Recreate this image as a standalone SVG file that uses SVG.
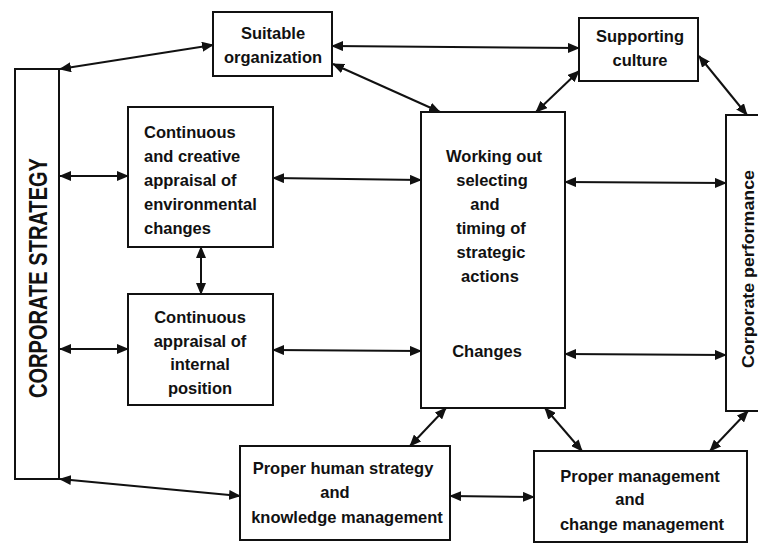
<svg xmlns="http://www.w3.org/2000/svg" width="758" height="545" viewBox="0 0 758 545">
<style>
.box{fill:#fff;stroke:#111;stroke-width:2}
.t{font-family:"Liberation Sans",Arial,sans-serif;font-size:16.5px;font-weight:bold;fill:#111}
.c{text-anchor:middle}
.con line{stroke:#111;stroke-width:2;marker-start:url(#ah);marker-end:url(#ah)}
</style>
<defs>
<marker id="ah" viewBox="0 0 12 10" refX="11" refY="5" markerWidth="12" markerHeight="10" markerUnits="userSpaceOnUse" orient="auto-start-reverse">
<path d="M0,0 L12,5 L0,10 Z" fill="#111"/>
</marker>
</defs>
<rect width="758" height="545" fill="#fff"/>
<g id="corporate-strategy">
<rect class="box" x="15" y="69" width="44" height="410"/>
<text class="t c" style="font-size:26px" textLength="240" lengthAdjust="spacingAndGlyphs" transform="translate(47,278) rotate(-90)">CORPORATE STRATEGY</text>
</g>
<g id="suitable-organization">
<rect class="box" x="213" y="12" width="119" height="64"/>
<text class="t c" x="273" y="39">Suitable</text>
<text class="t c" x="273" y="63">organization</text>
</g>
<g id="supporting-culture">
<rect class="box" x="579" y="18" width="119" height="63"/>
<text class="t c" x="640" y="42">Supporting</text>
<text class="t c" x="640" y="66">culture</text>
</g>
<g id="environmental">
<rect class="box" x="128" y="107" width="145" height="140"/>
<text class="t" x="144" y="138">Continuous</text>
<text class="t" x="144" y="162">and creative</text>
<text class="t" x="144" y="186">appraisal of</text>
<text class="t" x="144" y="210">environmental</text>
<text class="t" x="144" y="234">changes</text>
</g>
<g id="internal">
<rect class="box" x="128" y="294" width="145" height="111"/>
<text class="t c" x="200" y="323">Continuous</text>
<text class="t c" x="200" y="347">appraisal of</text>
<text class="t c" x="200" y="370">internal</text>
<text class="t c" x="200" y="394">position</text>
</g>
<g id="working-out">
<rect class="box" x="421" y="112" width="144" height="296"/>
<text class="t c" x="494" y="162">Working out</text>
<text class="t c" x="492" y="186">selecting</text>
<text class="t c" x="485" y="210">and</text>
<text class="t c" x="491" y="234">timing of</text>
<text class="t c" x="491" y="258">strategic</text>
<text class="t c" x="490" y="282">actions</text>
<text class="t c" x="487" y="357">Changes</text>
</g>
<g id="corporate-performance">
<rect class="box" x="726" y="115" width="50" height="296"/>
<text class="t c" style="font-size:16px" textLength="198" lengthAdjust="spacingAndGlyphs" transform="translate(754,269) rotate(-90)">Corporate performance</text>
</g>
<g id="human-strategy">
<rect class="box" x="240" y="446" width="210" height="94"/>
<text class="t c" x="343" y="474">Proper human strategy</text>
<text class="t c" x="335" y="498">and</text>
<text class="t c" x="347" y="523">knowledge management</text>
</g>
<g id="proper-management">
<rect class="box" x="534" y="451" width="213" height="91"/>
<text class="t c" x="640" y="482">Proper management</text>
<text class="t c" x="630" y="505">and</text>
<text class="t c" x="642" y="530">change management</text>
</g>
<g id="connectors" class="con">
<line x1="60" y1="69" x2="213" y2="45"/>
<line x1="332" y1="46" x2="579" y2="48"/>
<line x1="333" y1="64" x2="440" y2="112"/>
<line x1="579" y1="71" x2="536" y2="112"/>
<line x1="699" y1="56" x2="747" y2="115"/>
<line x1="60" y1="176" x2="128" y2="176"/>
<line x1="273" y1="178" x2="421" y2="180"/>
<line x1="201" y1="247" x2="201" y2="294"/>
<line x1="60" y1="349" x2="128" y2="349"/>
<line x1="273" y1="350" x2="421" y2="351"/>
<line x1="565" y1="182" x2="726" y2="183"/>
<line x1="565" y1="354" x2="726" y2="355"/>
<line x1="60" y1="479" x2="240" y2="496"/>
<line x1="446" y1="408" x2="410" y2="446"/>
<line x1="545" y1="408" x2="582" y2="451"/>
<line x1="748" y1="411" x2="710" y2="451"/>
<line x1="450" y1="496" x2="534" y2="497"/>
</g>
</svg>
